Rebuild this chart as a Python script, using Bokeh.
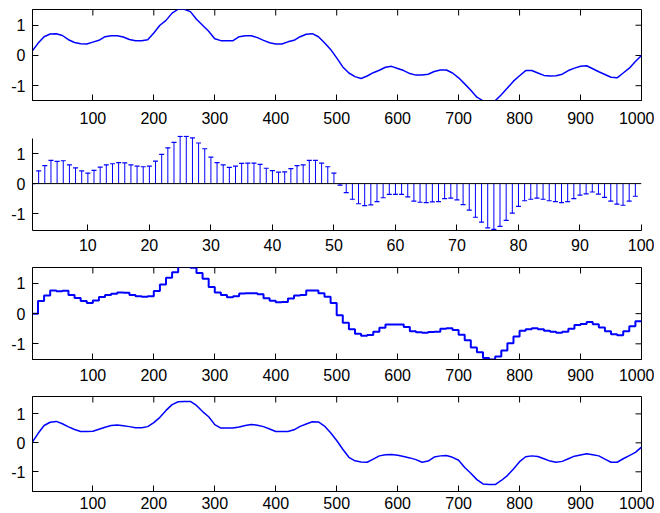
import numpy as np
from bokeh.plotting import figure
from bokeh.layouts import column
from bokeh.models import Range1d, FixedTicker, Span
from bokeh.embed import file_html
from bokeh.resources import INLINE

# ---------------- data ----------------
signal_t = list(range(0, 1001, 10))
signal_vals = [
    0.13, 0.40, 0.62, 0.71, 0.72, 0.66, 0.52, 0.43, 0.39, 0.38,
    0.44, 0.50, 0.62, 0.65, 0.65, 0.61, 0.53, 0.49, 0.49, 0.52,
    0.74, 1.00, 1.16, 1.40, 1.53, 1.53, 1.45, 1.20, 1.00, 0.80,
    0.55, 0.49, 0.49, 0.49, 0.62, 0.65, 0.65, 0.59, 0.50, 0.42,
    0.38, 0.38, 0.45, 0.50, 0.62, 0.70, 0.72, 0.62, 0.42, 0.20,
    -0.08, -0.38, -0.58, -0.70, -0.76, -0.68, -0.57, -0.49, -0.39, -0.36,
    -0.43, -0.50, -0.60, -0.65, -0.65, -0.62, -0.53, -0.48, -0.48, -0.58,
    -0.74, -0.94, -1.15, -1.38, -1.50, -1.50, -1.50, -1.30, -1.08, -0.85,
    -0.67, -0.50, -0.50, -0.58, -0.66, -0.68, -0.67, -0.62, -0.50, -0.42,
    -0.36, -0.34, -0.44, -0.54, -0.63, -0.72, -0.74, -0.58, -0.42, -0.20,
    0.00,
]

# decimated samples (every 10th); the last one only shows in the stairs plot
stem_n = list(range(1, 101))
stem_vals = [
    0.00, 0.42, 0.60, 0.77, 0.74, 0.76, 0.62, 0.52, 0.42, 0.35,
    0.44, 0.55, 0.62, 0.66, 0.70, 0.69, 0.62, 0.58, 0.56, 0.58,
    0.75, 0.97, 1.19, 1.37, 1.57, 1.57, 1.52, 1.35, 1.16, 0.88,
    0.70, 0.62, 0.54, 0.58, 0.67, 0.68, 0.68, 0.64, 0.51, 0.43,
    0.38, 0.39, 0.50, 0.60, 0.62, 0.77, 0.77, 0.68, 0.56, 0.35,
    -0.05, -0.30, -0.52, -0.67, -0.73, -0.71, -0.60, -0.47, -0.36, -0.36,
    -0.36, -0.44, -0.58, -0.62, -0.63, -0.61, -0.60, -0.50, -0.48, -0.54,
    -0.70, -0.88, -1.12, -1.28, -1.47, -1.52, -1.42, -1.22, -0.98, -0.76,
    -0.57, -0.52, -0.48, -0.52, -0.57, -0.60, -0.63, -0.60, -0.50, -0.38,
    -0.34, -0.28, -0.35, -0.46, -0.58, -0.68, -0.72, -0.58, -0.42, -0.25,
]

smooth_t = list(range(0, 1001, 10))
smooth_vals = [
    0.00, 0.32, 0.60, 0.71, 0.74, 0.66, 0.55, 0.46, 0.39, 0.39,
    0.40, 0.47, 0.54, 0.60, 0.62, 0.59, 0.56, 0.52, 0.52, 0.56,
    0.70, 0.88, 1.12, 1.32, 1.42, 1.43, 1.43, 1.29, 1.08, 0.90,
    0.63, 0.51, 0.51, 0.51, 0.55, 0.60, 0.63, 0.61, 0.56, 0.48,
    0.39, 0.39, 0.39, 0.45, 0.57, 0.65, 0.73, 0.72, 0.58, 0.35,
    0.08, -0.22, -0.50, -0.62, -0.66, -0.67, -0.56, -0.45, -0.41, -0.40,
    -0.43, -0.47, -0.52, -0.58, -0.67, -0.63, -0.49, -0.45, -0.44, -0.50,
    -0.60, -0.85, -1.05, -1.27, -1.42, -1.44, -1.44, -1.30, -1.13, -0.90,
    -0.65, -0.48, -0.45, -0.47, -0.55, -0.63, -0.67, -0.64, -0.55, -0.46,
    -0.42, -0.38, -0.41, -0.45, -0.56, -0.67, -0.67, -0.55, -0.44, -0.33,
    -0.15,
]

x_ticks_long = [100, 200, 300, 400, 500, 600, 700, 800, 900, 1000]
x_ticks_short = [10, 20, 30, 40, 50, 60, 70, 80, 90, 100]
y_ticks = [-1, 0, 1]
y_tick_labels = {-1: "-1", 0: "0", 1: "1"}

BLUE = "#0000ff"
FONT = "Liberation Sans"
FS = "16px"
W = 654
TICK = 6


def style_axis(ax, ticks, standoff):
    ax.ticker = FixedTicker(ticks=ticks)
    ax.major_tick_in = TICK
    ax.major_tick_out = 0
    ax.minor_tick_line_color = None
    ax.axis_line_color = "black"
    ax.axis_line_width = 1
    ax.major_tick_line_color = "black"
    ax.major_tick_line_width = 1
    ax.major_label_text_font = FONT
    ax.major_label_text_font_size = FS
    ax.major_label_text_color = "black"
    ax.major_label_standoff = standoff


def make_fig(height, top, bottom, xr, yr, xticks, xstandoff, box=True, ybounds=None):
    p = figure(width=W, height=height, x_range=Range1d(*xr), y_range=Range1d(*yr),
               output_backend="svg", toolbar_location=None, tools="",
               min_border_left=32, min_border_right=13,
               min_border_top=top, min_border_bottom=bottom)
    p.grid.visible = False
    p.background_fill_color = "white"
    p.border_fill_color = "white"
    for ax in p.xaxis:
        style_axis(ax, xticks, xstandoff)
    for ax in p.yaxis:
        style_axis(ax, y_ticks, 7)
        ax.major_label_overrides = y_tick_labels
        if ybounds is not None:
            ax.bounds = ybounds
    if box:
        p.outline_line_color = "black"
        p.outline_line_width = 1
        # inward ticks on the top and right edges of the box
        p.ray(x=xticks, y=[yr[1]] * len(xticks), length=TICK, length_units="screen",
              angle=-90, angle_units="deg", line_color="black", line_width=1)
        p.ray(x=[xr[1]] * len(y_ticks), y=y_ticks, length=TICK, length_units="screen",
              angle=180, angle_units="deg", line_color="black", line_width=1)
    else:
        p.outline_line_color = None
    return p


# ---- subplot 1: original signal
p1 = make_fig(134, 9, 34, (1, 1000), (-1.49, 1.52), x_ticks_long, 11)
p1.line(signal_t, signal_vals, line_color=BLUE, line_width=1.5)

# ---- subplot 2: stem of decimated samples (first 99 are drawn)
shown_n = stem_n[:-1]
shown_v = stem_vals[:-1]
p2 = make_fig(129, 1, 33, (1, 100), (-1.56, 1.6), x_ticks_short, 8, box=False,
              ybounds=(-1.56, 1.5))
p2.add_layout(Span(location=0, dimension="width", line_color="black", line_width=1))
p2.segment(x0=shown_n, y0=[0] * len(shown_n), x1=shown_n, y1=shown_v,
           line_color=BLUE, line_width=1)
p2.scatter(shown_n, shown_v, marker="dash", size=5, line_color=BLUE, line_width=1.2)

# ---- subplot 3: zero-order hold (stairs)
stair_x = [10 * (n - 1) for n in stem_n] + [10 * stem_n[-1]]
stair_y = stem_vals + [stem_vals[-1]]
p3 = make_fig(128, 4, 32, (1, 1000), (-1.52, 1.53), x_ticks_long, 9)
p3.step(stair_x, stair_y, mode="after", line_color=BLUE, line_width=2)

# ---- subplot 4: interpolated reconstruction
p4 = make_fig(121, 5, 21, (1, 1000), (-1.68, 1.6), x_ticks_long, 5)
p4.line(smooth_t, smooth_vals, line_color=BLUE, line_width=1.5)

layout = column(p1, p2, p3, p4, spacing=0)
open("out.html", "w").write(file_html(layout, INLINE))
